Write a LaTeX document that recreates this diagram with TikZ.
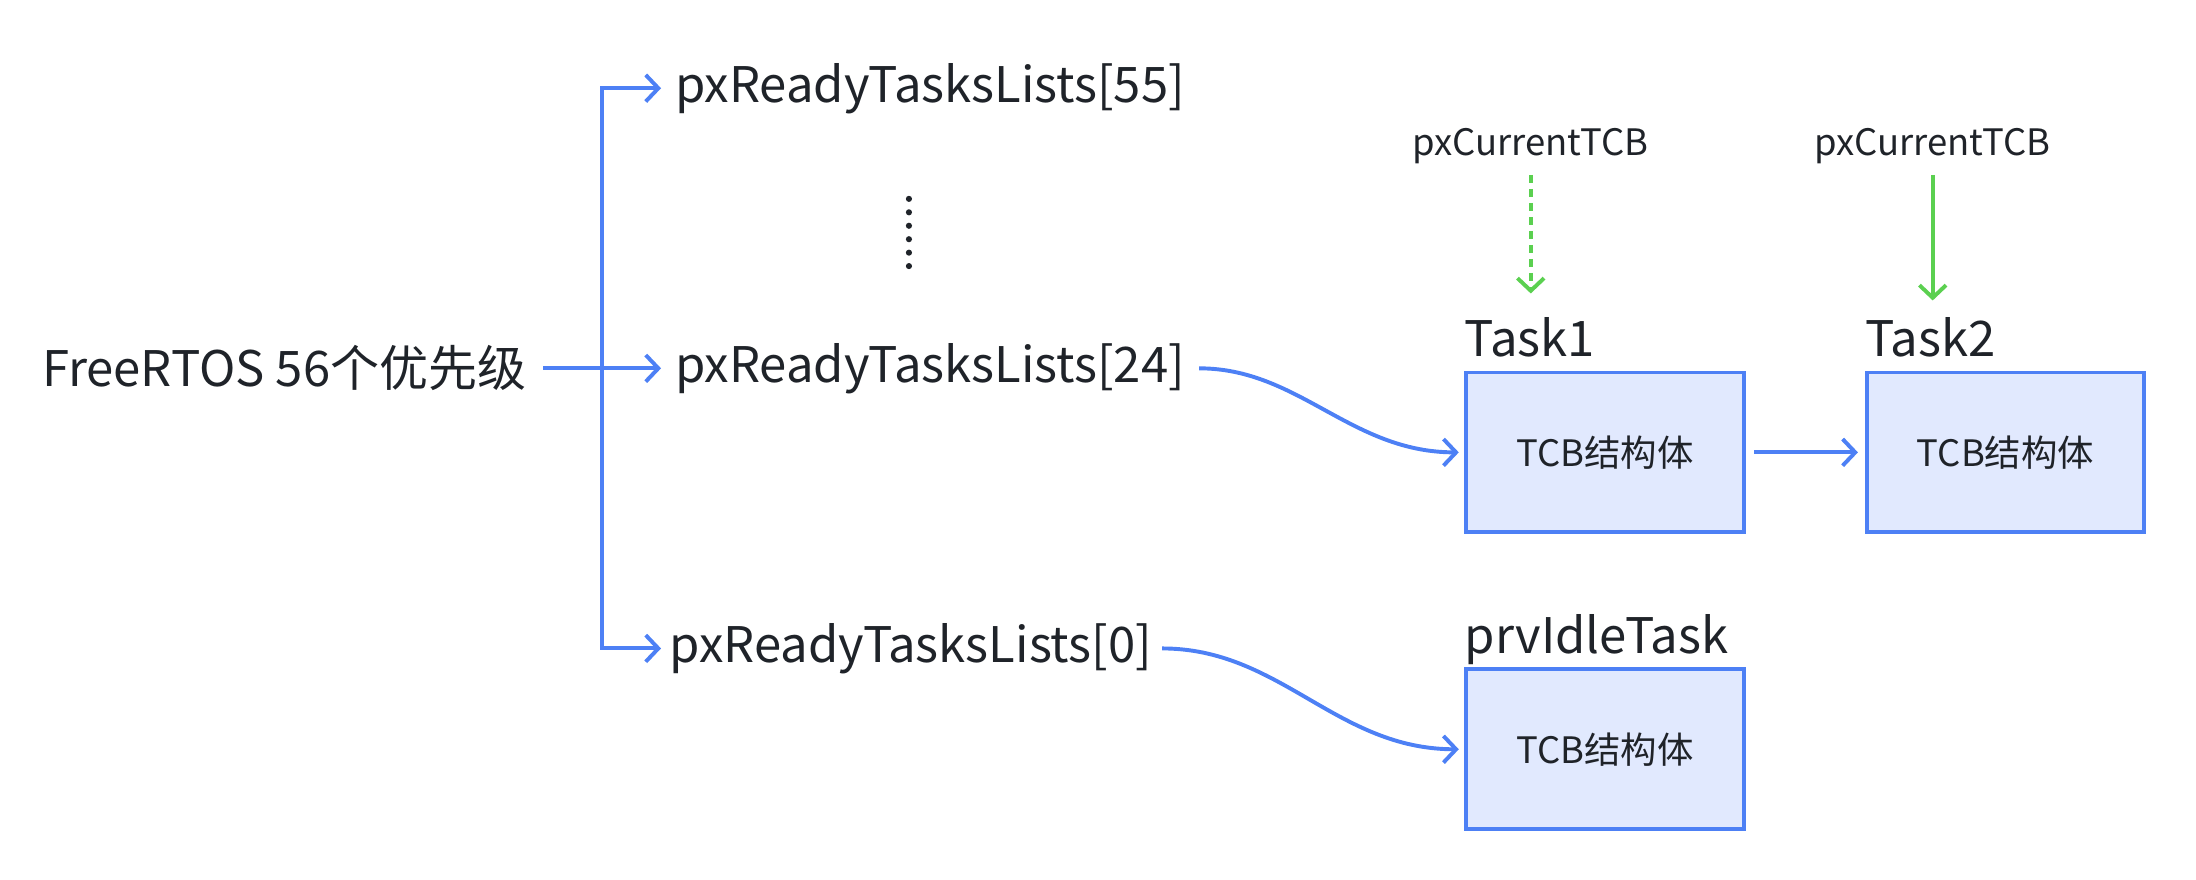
\documentclass[tikz,border=0pt]{standalone}
\usepackage{fontspec}
\setmainfont{Noto Sans CJK SC}
\usepackage{tikz}
\usetikzlibrary{arrows.meta}
\definecolor{textcol}{HTML}{1F2329}
\definecolor{lineblue}{HTML}{4D80F5}
\definecolor{fillblue}{HTML}{E1E9FE}
\definecolor{curgreen}{HTML}{5BD050}
\tikzstyle{bigtext} = [text=textcol, font=\fontsize{35}{40}\selectfont]
\tikzstyle{listname} = [bigtext, anchor=west, inner sep=0pt]
\tikzstyle{tasklabel} = [bigtext, anchor=base west, inner sep=0pt]
\tikzstyle{curlabel} = [text=textcol, font=\fontsize{26}{30}\selectfont, inner sep=0pt]
\tikzstyle{tcb} = [rectangle, minimum width=198pt, minimum height=114pt, draw=lineblue, fill=fillblue, line width=2.8pt, text=textcol, font=\fontsize{26}{30}\selectfont]
\tikzstyle{arrow} = [draw=lineblue, line width=2.8pt, -{Straight Barb[length=9pt,width=19pt,line width=2.8pt]}]
\tikzstyle{curarrow} = [draw=curgreen, line width=2.8pt, -{Straight Barb[length=9pt,width=19pt,line width=2.8pt]}]

\begin{document}
\begin{tikzpicture}[x=1pt,y=-1pt,node distance=286pt]
\useasboundingbox (0,0) rectangle (1568,628);
\node (prio) [bigtext, anchor=east, inner sep=0pt] at (376,263) {FreeRTOS 56个优先级};
\coordinate (trunk) at (430,260);
\node (list55) [listname] at (482,63) {pxReadyTasksLists[55]};
\node (list24) [listname] at (482,263) {pxReadyTasksLists[24]};
\node (list0) [listname] at (478,463) {pxReadyTasksLists[0]};
\foreach \i in {0,...,5}
  \fill [textcol] (649,142+9.6*\i) circle (2.2pt);
\node (task1) [tcb] at (1146,323) {TCB结构体};
\node (task2) [tcb, right of = task1] {TCB结构体};
\node (idle) [tcb, below of = task1, yshift=74pt] {TCB结构体};
\node (task1lbl) [tasklabel] at ([yshift=10pt]task1.north west) {Task1};
\node (task2lbl) [tasklabel] at ([yshift=10pt]task2.north west) {Task2};
\node (idlelbl) [tasklabel] at ([yshift=10pt]idle.north west) {prvIdleTask};
\node (cur1) [curlabel] at (1093,104) {pxCurrentTCB};
\node (cur2) [curlabel] at (1380,104) {pxCurrentTCB};
\draw [arrow, shorten <=12pt, shorten >=10pt] (prio.east) -- (list24.west);
\draw [arrow, shorten >=10pt] (trunk) |- (list55.west);
\draw [arrow, shorten >=6pt] (trunk) |- (list0.west);
\draw [arrow, shorten <=10pt, shorten >=4pt] (list24.east) to[out=0, in=180] (task1.west);
\draw [arrow, shorten <=7pt, shorten >=4pt] (list0.east) to[out=0, in=180] (idle.west);
\draw [arrow, shorten <=6pt, shorten >=5pt] (task1) -- (task2);
\draw [curarrow, dash pattern=on 6pt off 4pt, shorten <=8pt, shorten >=17pt] (cur1) -- (cur1 |- task1lbl.north);
\draw [curarrow, shorten <=8pt, shorten >=12pt] (cur2) -- (cur2 |- task2lbl.north);
\end{tikzpicture}
\end{document}
